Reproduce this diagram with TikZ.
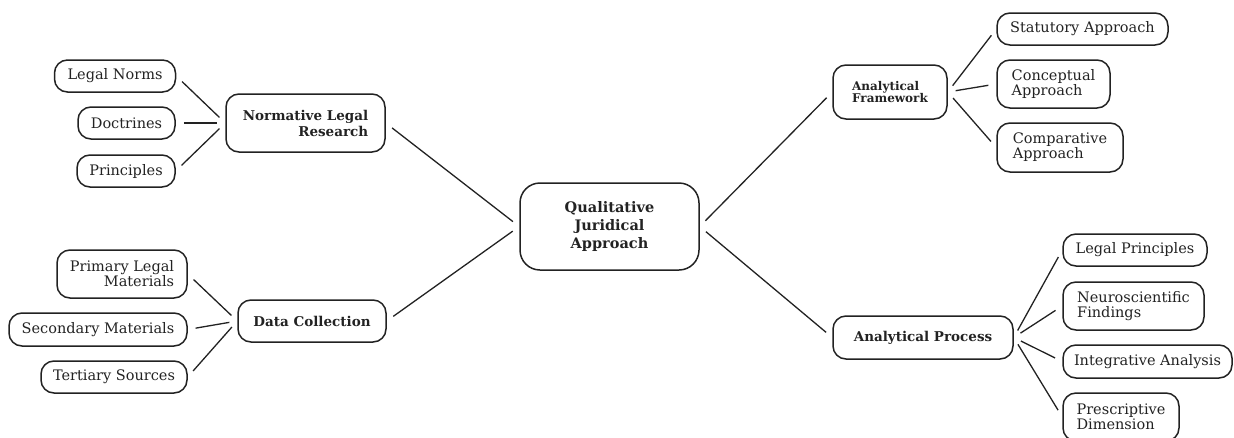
\documentclass[tikz,border=0pt]{standalone}
\usepackage{fontspec}
\setmainfont{DejaVu Serif}
\definecolor{ink}{HTML}{222222}
\begin{document}
\begin{tikzpicture}[x=1pt,y=-1pt,
  box/.style={draw=ink,line width=1.5pt,rounded corners=13pt,inner sep=2pt,text=ink,font=\fontsize{14.5}{15}\selectfont},
  hub/.style={box,font=\bfseries\fontsize{13.5}{16}\selectfont},
  link/.style={draw=ink,line width=1.3pt,shorten <=8pt,shorten >=8pt}]
\useasboundingbox (0,0) rectangle (1234,437);
% center
\node[hub,rounded corners=20pt,minimum width=179pt,minimum height=87pt,align=center,font=\bfseries\fontsize{14.5}{18}\selectfont] (c) at (609.5,226.5) {Qualitative\\Juridical\\Approach};
% left top
\node[hub,minimum width=159pt,minimum height=58pt,align=right] (nlr) at (305.5,123) {Normative Legal\\Research};
\node[box,minimum width=121pt,minimum height=32pt] (ln) at (115,76) {Legal Norms};
\node[box,minimum width=97pt,minimum height=32pt] (doc) at (126.5,123) {Doctrines};
\node[box,minimum width=98pt,minimum height=32pt] (pri) at (126,171) {Principles};
% left bottom
\node[hub,minimum width=148pt,minimum height=42pt] (dc) at (312,321) {Data Collection};
\node[box,minimum width=130pt,minimum height=48pt,align=right] (plm) at (122,274) {Primary Legal\\Materials};
\node[box,minimum width=178pt,minimum height=33pt] (sm) at (98,329.5) {Secondary Materials};
\node[box,minimum width=146pt,minimum height=32pt] (ts) at (114,377) {Tertiary Sources};
% right top
\node[hub,minimum width=114pt,minimum height=54pt,align=left,font=\bfseries\fontsize{12}{12.5}\selectfont] (af) at (890,92) {Analytical\\Framework};
\node[box,minimum width=171pt,minimum height=32pt] (sa) at (1082.5,29) {Statutory Approach};
\node[box,minimum width=113pt,minimum height=48pt,align=left] (ca) at (1053.5,84) {Conceptual\\Approach};
\node[box,minimum width=126pt,minimum height=49pt,align=left] (cpa) at (1060,147.5) {Comparative\\Approach};
% right bottom
\node[hub,minimum width=180pt,minimum height=43pt] (ap) at (923,337.5) {Analytical Process};
\node[box,minimum width=144pt,minimum height=32pt] (lp) at (1135,250) {Legal Principles};
\node[box,minimum width=141pt,minimum height=48pt,align=left] (nf) at (1133.5,306) {Neuroscientific\\Findings};
\node[box,minimum width=169pt,minimum height=33pt] (ia) at (1147.5,361.5) {Integrative Analysis};
\node[box,minimum width=116pt,minimum height=48pt,align=left] (pd) at (1121,417) {Prescriptive\\Dimension};
% links
\draw[link] (nlr.east) -- (c.west);
\draw[link] (dc.east) -- (c.west);
\draw[link] (c.east) -- (af.west);
\draw[link] (c.east) -- (ap.west);
\draw[link] (ln.east) -- (nlr.west);
\draw[link] (doc.east) -- (nlr.west);
\draw[link] (pri.east) -- (nlr.west);
\draw[link] (plm.east) -- (dc.west);
\draw[link] (sm.east) -- (dc.west);
\draw[link] (ts.east) -- (dc.west);
\draw[link] (af.east) -- (sa.west);
\draw[link] (af.east) -- (ca.west);
\draw[link] (af.east) -- (cpa.west);
\draw[link] (ap.east) -- (lp.west);
\draw[link] (ap.east) -- (nf.west);
\draw[link] (ap.east) -- (ia.west);
\draw[link] (ap.east) -- (pd.west);
\end{tikzpicture}
\end{document}
